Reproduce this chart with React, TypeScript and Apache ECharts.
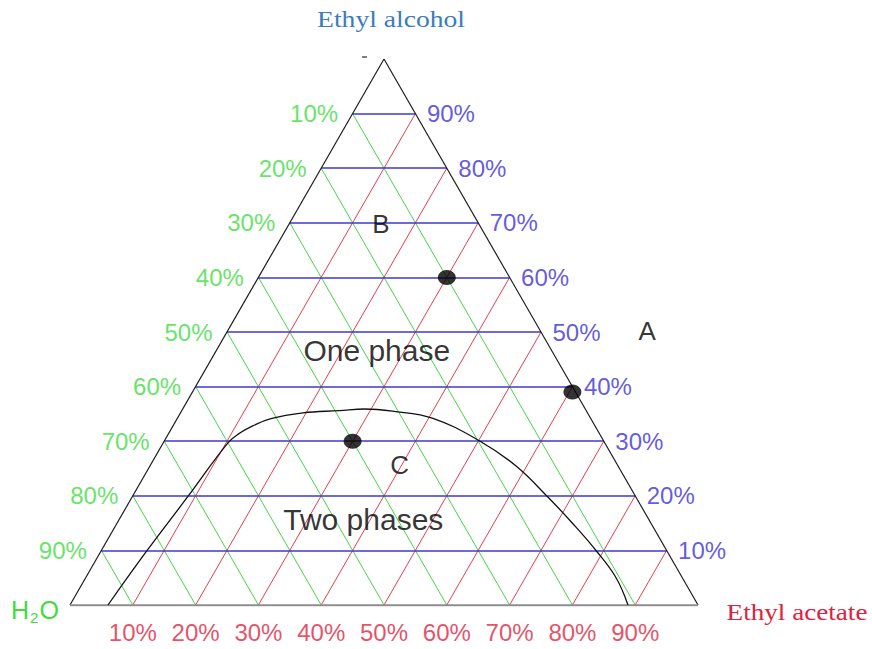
import React, { useEffect, useRef } from "react";
import * as echarts from "echarts";

// ---- data (ternary compositions, fractions) ----
const TICKS = [10, 20, 30, 40, 50, 60, 70, 80, 90];
// binodal curve: alcohol and ethyl acetate fractions
const CURVE_ALCOHOL = [0, 0.0971, 0.196, 0.297, 0.315, 0.328, 0.341, 0.352, 0.356, 0.359, 0.355, 0.342, 0.3, 0.2546, 0.1978, 0.1484, 0.0971, 0.0495, 0];
const CURVE_ACETATE = [0.0605, 0.0725, 0.088, 0.103, 0.113, 0.127, 0.148, 0.195, 0.251, 0.29, 0.336, 0.407, 0.503, 0.583, 0.662, 0.727, 0.791, 0.845, 0.8885];
// composition points
const DOT_ALCOHOL = [0.6, 0.39, 0.3];
const DOT_ACETATE = [0.3, 0.605, 0.3];
// annotations
const NOTE_TEXT = ["One phase", "Two phases", "A", "B", "C"];
const NOTE_ALCOHOL = [0.467, 0.156, 0.502, 0.698, 0.256];
const NOTE_ACETATE = [0.255, 0.389, 0.668, 0.146, 0.397];

const H = Math.sqrt(3) / 2;
const toXY = (a: number, c: number) => [c + a / 2, a * H];

const SANS = "'Liberation Sans', Arial, Helvetica, sans-serif";
const SERIF = "'Liberation Serif', 'Times New Roman', serif";

export default function App() {
  const ref = useRef<HTMLDivElement>(null);
  useEffect(() => {
    if (!ref.current) return;
    const chart = echarts.init(ref.current, undefined, { renderer: "svg" });

    const blue = TICKS.map((t) => {
      const a = t / 100;
      return { coords: [toXY(a, 0), toXY(a, 1 - a)] };
    });
    const green = TICKS.map((t) => {
      const w = t / 100;
      return { coords: [toXY(1 - w, 0), toXY(0, 1 - w)] };
    });
    const red = TICKS.map((t) => {
      const c = t / 100;
      return { coords: [toXY(0, c), toXY(1 - c, c)] };
    });
    const sides = [
      { coords: [toXY(0, 0), toXY(1, 0)] },
      { coords: [toXY(1, 0), toXY(0, 1)] },
    ];
    const base = [{ coords: [toXY(0, 0), toXY(0, 1)] }];

    const lineSeries = (data: any[], color: string, width: number, z: number) => ({
      type: "lines",
      coordinateSystem: "cartesian2d",
      data,
      silent: true,
      z,
      lineStyle: { color, width, opacity: 1 },
    });

    const labelSeries = (
      data: any[],
      color: string,
      position: string,
      distance: number
    ) => ({
      type: "scatter",
      data,
      symbolSize: 1,
      itemStyle: { color: "rgba(0,0,0,0)" },
      silent: true,
      z: 10,
      label: {
        show: true,
        position,
        distance,
        formatter: "{b}",
        color,
        fontSize: 24,
        fontFamily: SANS,
      },
    });

    chart.setOption({
      animation: false,
      grid: { left: 70, right: 174, top: 59, bottom: 44 },
      xAxis: { type: "value", min: 0, max: 1, show: false },
      yAxis: { type: "value", min: 0, max: H, show: false },
      graphic: [
        {
          type: "text",
          x: 391,
          y: 19,
          scaleX: 1.2,
          style: {
            text: "Ethyl alcohol",
            font: `23px ${SERIF}`,
            fill: "#3b7cbd",
            textAlign: "center",
            textVerticalAlign: "middle",
          },
        },
        {
          type: "text",
          x: 797,
          y: 612,
          scaleX: 1.18,
          style: {
            text: "Ethyl acetate",
            font: `23px ${SERIF}`,
            fill: "#e0213e",
            textAlign: "center",
            textVerticalAlign: "middle",
          },
        },
        {
          type: "text",
          x: 11,
          y: 610,
          style: {
            text: "{a|H}{b|2}{a|O}",
            textAlign: "left",
            textVerticalAlign: "middle",
            rich: {
              a: { fontSize: 25, fontFamily: SANS, fill: "#40dc40", color: "#40dc40" },
              b: {
                fontSize: 15,
                fontFamily: SANS,
                fill: "#40dc40",
                color: "#40dc40",
                verticalAlign: "bottom",
                padding: [14, 1, 0, 1],
              },
            },
          },
        },
        {
          type: "line",
          shape: { x1: 362, y1: 57, x2: 367, y2: 57 },
          style: { stroke: "#555", lineWidth: 1.5 },
        },
      ],
      series: [
        lineSeries(green, "#48d448", 1, 1),
        lineSeries(red, "#e23f4c", 1, 1),
        lineSeries(blue, "#3e38cc", 1.6, 2),
        lineSeries(sides, "#1e1e1e", 1.2, 3),
        lineSeries(base, "#8c8c8c", 2.6, 3),
        {
          type: "line",
          data: CURVE_ALCOHOL.map((a, i) => toXY(a, CURVE_ACETATE[i])),
          smooth: 0.4,
          symbol: "none",
          silent: true,
          z: 4,
          lineStyle: { color: "#111", width: 1.3 },
        },
        {
          type: "scatter",
          data: DOT_ALCOHOL.map((a, i) => toXY(a, DOT_ACETATE[i])),
          symbol: "circle",
          symbolSize: [18, 15],
          itemStyle: { color: "#000" },
          silent: true,
          z: 6,
        },
        labelSeries(
          TICKS.map((t) => ({ name: `${t}%`, value: toXY(1 - t / 100, 0) })),
          "#40dc40",
          "left",
          14
        ),
        labelSeries(
          TICKS.map((t) => ({ name: `${t}%`, value: toXY(t / 100, 1 - t / 100) })),
          "#3a2fd8",
          "right",
          11
        ),
        labelSeries(
          TICKS.map((t) => ({ name: `${t}%`, value: toXY(0, t / 100) })),
          "#e0243f",
          "bottom",
          15
        ),
        {
          type: "scatter",
          data: NOTE_TEXT.map((s, i) => ({
            name: s,
            value: toXY(NOTE_ALCOHOL[i], NOTE_ACETATE[i]),
          })),
          symbolSize: 1,
          itemStyle: { color: "rgba(0,0,0,0)" },
          silent: true,
          z: 11,
          label: {
            show: true,
            position: "inside",
            formatter: (p: any) =>
              p.name.length > 1 ? `{big|${p.name}}` : `{letter|${p.name}}`,
            rich: {
              big: { fontSize: 30, fontFamily: SANS, color: "#000" },
              letter: { fontSize: 26, fontFamily: SANS, color: "#000" },
            },
          },
        },
      ],
    });
    return () => chart.dispose();
  }, []);
  return (
    <div
      ref={ref}
      style={{ position: "fixed", left: 0, top: 0, width: 872, height: 649, background: "#fff" }}
    />
  );
}
